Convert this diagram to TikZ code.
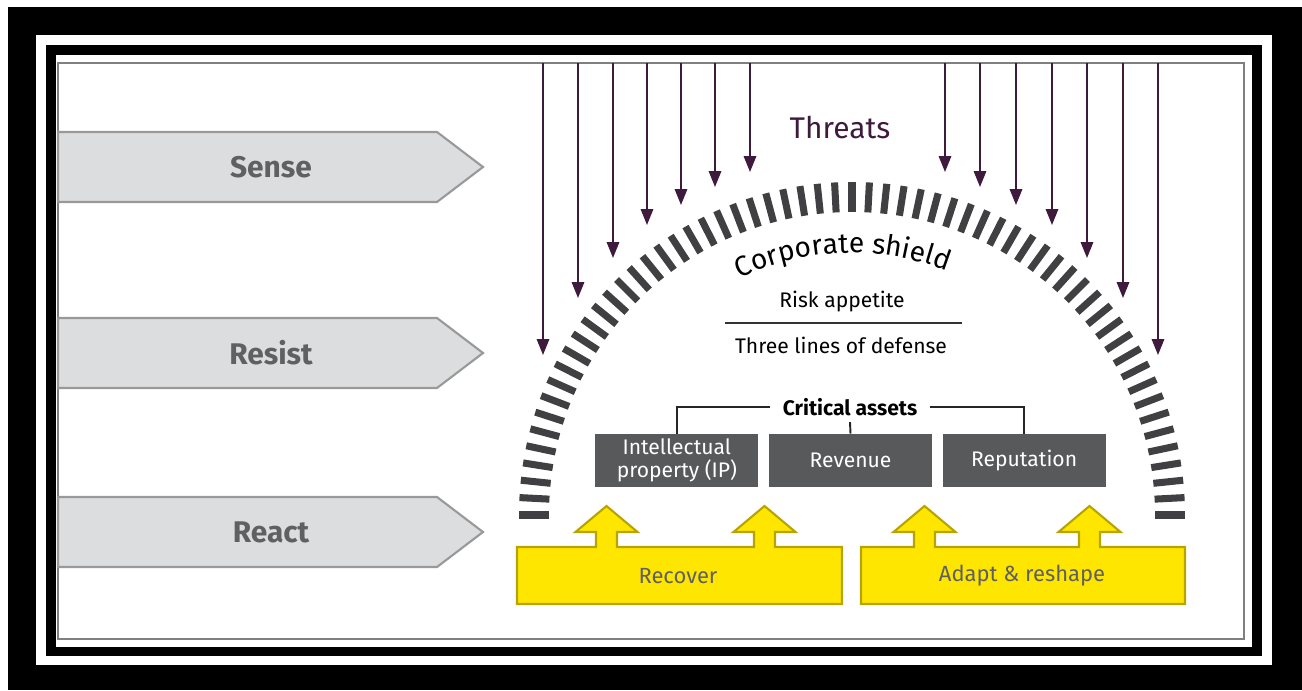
\documentclass[tikz,border=0pt]{standalone}
\usepackage{fontspec}
\setmainfont{Fira Sans}
\usetikzlibrary{arrows.meta,decorations.text,positioning}

\definecolor{eyyellow}{HTML}{FFE600}
\definecolor{yellowedge}{HTML}{B8A400}
\definecolor{threatpurple}{HTML}{3E1A3C}
\definecolor{shieldgrey}{HTML}{404042}
\definecolor{assetgrey}{HTML}{58595B}
\definecolor{phasegrey}{HTML}{DCDDDE}
\definecolor{phasetext}{HTML}{5F6062}

\newcommand\shieldfont{\fontsize{16}{19}\selectfont}
% one upward arrow on top of a yellow bar, centred at x = #1
\newcommand\liftarrow[1]{-- ({#1-10.5},-547) -- ({#1-10.5},-532) -- ({#1-31},-532) -- (#1,-506)
  -- ({#1+31},-532) -- ({#1+10.5},-532) -- ({#1+10.5},-547)}

\tikzset{
  phase/.style={fill=phasegrey, draw=black!40, line width=1.2pt},
  phaselabel/.style={font=\fontsize{17}{20}\selectfont\bfseries, text=phasetext},
  threat/.style={draw=threatpurple, line width=1.1pt, -{Triangle[width=7pt,length=9pt]}},
  shieldbar/.style={draw=shieldgrey, line width=4pt},
  asset/.style={fill=assetgrey, text=white, minimum width=3.26cm, minimum height=1.06cm,
    inner sep=0pt, align=center, font=\fontsize{12}{13}\selectfont},
  response/.style={fill=eyyellow, draw=yellowedge, line width=1.2pt},
  bracket/.style={draw=black!85, line width=1.1pt},
}

\begin{document}
\begin{tikzpicture}[x=0.02cm, y=0.02cm]

\useasboundingbox (0,0) rectangle (1302,-690);
\fill[white] (0,0) rectangle (1302,-690);

% --- frame ---
\fill[black] (8,-7) rectangle (1302,-690);
\fill[white] (36,-35) rectangle (1272,-665);
\fill[black] (46,-45) rectangle (1262,-656);
\fill[white] (56,-55) rectangle (1252,-647);
\draw[black!50, line width=1.2pt] (58,-63) rectangle (1244,-639);

% --- sense / resist / react ---
\foreach \name/\y in {Sense/167, Resist/353, React/532} {
  \draw[phase] (58,{-\y+35}) -- (437,{-\y+35}) -- (483,-\y) -- (437,{-\y-35}) -- (58,{-\y-35}) -- cycle;
  \node[phaselabel] (\name) at (271,-\y) {\name};
}

% --- threats ---
\node[text=threatpurple, font=\fontsize{17}{20}\selectfont] (threats) at (840,-128) {Threats};
\foreach \x/\y in {543/355, 578/298, 613/258, 647/225, 681/205, 715/187, 750/172,
                   945/172, 980/187, 1016/205, 1052/225, 1087/258, 1123/298, 1158/355}
  \draw[threat] (\x,-63) -- (\x,-\y);

% --- corporate shield ---
\begin{scope}[shift={(852,-515)}]
  \foreach \a in {0,3,...,180}
    \draw[shieldbar] (\a:303) -- (\a:333);
  \path[postaction={decorate}, decoration={text along path, text align=center,
      text={|\shieldfont|Corporate shield}}]
    (121:262) arc[start angle=121, end angle=63, radius=262];
\end{scope}

\node[font=\fontsize{12}{14}\selectfont] (risk) at (842,-302) {Risk appetite};
\draw[line width=1.1pt, black!80] (725,-323) -- (962,-323);
\node[font=\fontsize{12}{14}\selectfont] (lines) at (841,-345) {Three lines of defense};

% --- critical assets ---
\node[asset] (rev) at (850.5,-460.5) {Revenue};
\node[asset, left=0.2cm of rev] (ip) {Intellectual\\property (IP)};
\node[asset, right=0.2cm of rev] (rep) {Reputation};
\node[font=\fontsize{12}{14}\selectfont\bfseries, inner xsep=0.24cm, inner ysep=0.12cm] (crit) at (850,-407) {Critical assets};
\draw[bracket] (crit.west) -| (ip.north);
\draw[bracket] (crit.east) -| (rep.north);
\draw[bracket] (crit.south) -- (rev.north);

% --- recover / adapt ---
\draw[response] (517,-604) -- (517,-547) \liftarrow{606.5} \liftarrow{764.5} -- (842,-547) -- (842,-604) -- cycle;
\draw[response] (861,-604) -- (861,-547) \liftarrow{924.5} \liftarrow{1089.5} -- (1185,-547) -- (1185,-604) -- cycle;
\node[text=phasetext, font=\fontsize{12.5}{14}\selectfont] (recover) at (678,-576) {Recover};
\node[text=phasetext, font=\fontsize{12.5}{14}\selectfont] (adapt) at (1022,-576) {Adapt \& reshape};

\end{tikzpicture}
\end{document}
